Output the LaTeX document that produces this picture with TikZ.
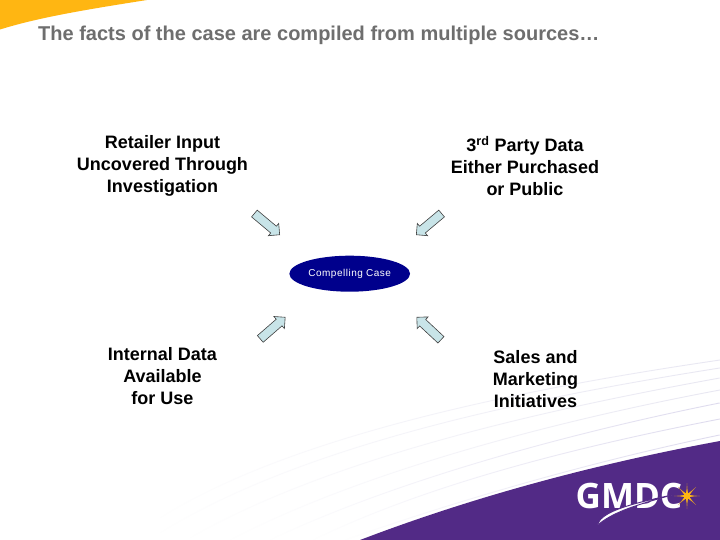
\documentclass[tikz,border=0pt]{standalone}
\usepackage{fontspec}
\setmainfont{Liberation Sans}
\newfontfamily\casefont[LetterSpace=5]{Liberation Sans}
\newfontfamily\logofont{Open Sans}
\usetikzlibrary{shapes.geometric,shapes.arrows,fadings}
\definecolor{swoosh}{RGB}{255,182,18}
\definecolor{gmdcpurple}{RGB}{82,42,134}
\definecolor{navyoval}{RGB}{0,0,140}
\definecolor{arrowfill}{RGB}{200,228,232}
\definecolor{titlegray}{RGB}{110,110,110}
\definecolor{sheenA}{RGB}{222,219,238}
\definecolor{sheenB}{RGB}{232,231,242}
\tikzset{
  source/.style={align=center,font=\fontsize{18}{22}\selectfont\bfseries,text=black,inner sep=0pt},
  blockarrow/.style={single arrow,draw=black!75,line width=0.6pt,fill=arrowfill,anchor=tip,
    minimum height=33pt,minimum width=16pt,inner sep=4pt,single arrow head extend=3.5pt,
    single arrow tip angle=90},
  casenode/.style={ellipse,fill=navyoval,minimum width=120.7pt,minimum height=36pt,inner sep=0pt,
    text=white,font=\fontsize{10}{12}\selectfont\casefont},
  sheen/.style={line width=0.9pt,path fading=west}
}
\begin{document}
\begin{tikzpicture}[x=1pt,y=-1pt]
\useasboundingbox (0,0) rectangle (720,540);
\fill[white] (0,0) rectangle (720,540);
% corner swoosh
\fill[swoosh] (0,0) -- (147,0) .. controls (90,9) and (40,17) .. (0,29.5) -- cycle;
% faint sweeping lines
\draw[sheen,sheenA] (345,540) .. controls (450,503) and (585,463) .. (720,435);
\draw[sheen,sheenA] (313,540) .. controls (420,488) and (560,450) .. (720,419);
\draw[sheen,sheenA] (270,540) .. controls (390,483) and (560,435) .. (720,403);
\draw[sheen,sheenB] (230,540) .. controls (365,470) and (560,420) .. (720,390);
\draw[sheen,sheenB] (190,538) .. controls (335,455) and (555,408) .. (720,378);
\draw[sheen,sheenB] (160,533) .. controls (310,440) and (550,395) .. (720,368);
\draw[sheen,sheenB] (160,518) .. controls (300,430) and (550,385) .. (720,360);
% purple corner
\fill[gmdcpurple] (360,540) .. controls (470,498) and (590,465) .. (720,441) -- (720,540) -- cycle;
% logo
\node[text=white,inner sep=0pt,font=\fontsize{35}{35}\selectfont\logofont\bfseries] (logo) at (629,495.5) {GMDC};
\fill[white,draw=gmdcpurple,line width=0.9pt] (597.5,524) .. controls (603,512) and (625,505) .. (672,495)
  .. controls (640,504) and (615,511) .. (599,524) -- cycle;
\node[star,star points=8,star point ratio=6,fill=swoosh!75!gmdcpurple,minimum size=26pt,inner sep=0pt] (spark) at (687,496) {};
\node[star,star points=8,star point ratio=2.5,fill=swoosh,minimum size=14pt,inner sep=0pt] (core) at (687,496) {};
% title
\node[anchor=west,inner sep=0pt,text=titlegray,font=\fontsize{20}{24}\selectfont\bfseries] (title) at (38,35) {The facts of the case are compiled from multiple sources…};
% sources
\node[source] (retail) at (162.5,166) {Retailer Input\\Uncovered Through\\Investigation};
\node[source] (third) at (525,166) {3\textsuperscript{rd} Party Data\\Either Purchased\\or Public};
\node[source] (internal) at (162.5,376) {Internal Data\\Available\\for Use};
\node[source] (sales) at (535.5,379) {Sales and\\Marketing\\Initiatives};
% centre
\node[casenode] (case) at (349.7,273.7) {Compelling Case};
% arrows
\node[blockarrow,rotate=-40] (a1) at (280,235) {};
\node[blockarrow,rotate=220] (a2) at (416,235) {};
\node[blockarrow,rotate=41] (a3) at (285.5,317) {};
\node[blockarrow,rotate=137] (a4) at (416.5,317) {};
\end{tikzpicture}
\end{document}
